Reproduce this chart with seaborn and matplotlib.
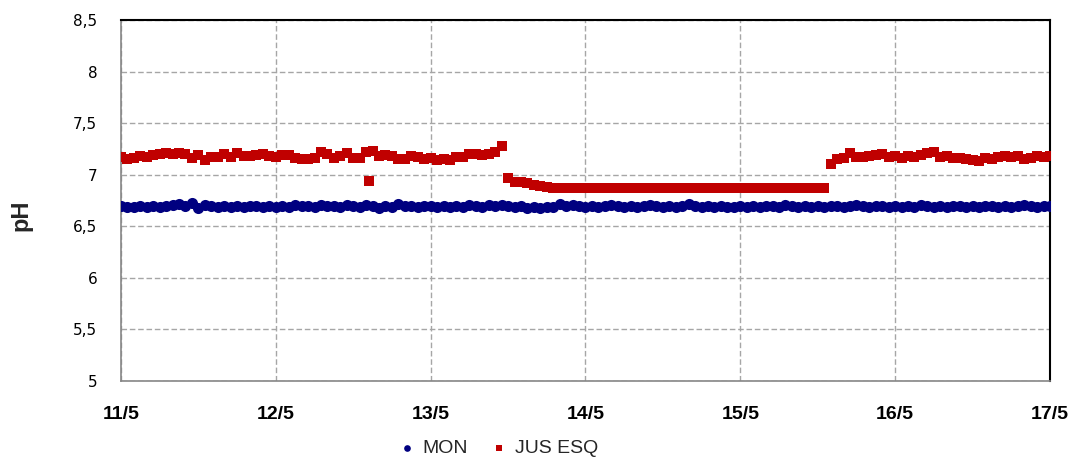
import matplotlib
matplotlib.use("Agg")
import matplotlib.pyplot as plt
import seaborn as sns
import pandas as pd

# Hourly readings from 11/5 00:00 to 17/5 00:00 (hours since start)
hours = list(range(0, 145))

mon_ph = [
    6.70, 6.69, 6.69, 6.70, 6.69, 6.70, 6.69, 6.70, 6.71, 6.72, 6.70, 6.73,
    6.68, 6.71, 6.70, 6.69, 6.70, 6.69, 6.70, 6.69, 6.70, 6.70, 6.69, 6.70,
    6.69, 6.70, 6.69, 6.71, 6.70, 6.70, 6.69, 6.71, 6.70, 6.70, 6.69, 6.71,
    6.70, 6.69, 6.71, 6.70, 6.68, 6.70, 6.69, 6.72, 6.70, 6.70, 6.69, 6.70,
    6.70, 6.69, 6.70, 6.69, 6.70, 6.69, 6.71, 6.70, 6.69, 6.71, 6.70, 6.71,
    6.70, 6.69, 6.70, 6.68, 6.69, 6.68, 6.69, 6.69, 6.72, 6.70, 6.71, 6.70,
    6.69, 6.70, 6.69, 6.70, 6.71, 6.70, 6.69, 6.70, 6.69, 6.70, 6.71, 6.70,
    6.69, 6.70, 6.69, 6.70, 6.72, 6.70, 6.69, 6.70, 6.69, 6.70, 6.69, 6.69,
    6.70, 6.69, 6.70, 6.69, 6.70, 6.70, 6.69, 6.71, 6.70, 6.69, 6.70, 6.69,
    6.70, 6.69, 6.70, 6.70, 6.69, 6.70, 6.71, 6.70, 6.69, 6.70, 6.70, 6.69,
    6.70, 6.69, 6.70, 6.69, 6.71, 6.70, 6.69, 6.70, 6.69, 6.70, 6.70, 6.69,
    6.70, 6.69, 6.70, 6.70, 6.69, 6.70, 6.69, 6.70, 6.71, 6.70, 6.69, 6.70,
    6.70,
]

jus_esq_ph = [
    7.17, 7.15, 7.16, 7.18, 7.17, 7.19, 7.20, 7.21, 7.20, 7.21, 7.20, 7.16,
    7.19, 7.14, 7.17, 7.17, 7.20, 7.17, 7.21, 7.18, 7.18, 7.19, 7.20, 7.18,
    7.17, 7.19, 7.19, 7.16, 7.15, 7.15, 7.16, 7.22, 7.20, 7.16, 7.18, 7.21,
    7.16, 7.16, 7.22, 7.23, 7.18, 7.19, 7.18, 7.15, 7.15, 7.18, 7.17, 7.15,
    7.16, 7.14, 7.15, 7.14, 7.17, 7.17, 7.20, 7.20, 7.19, 7.20, 7.22, 7.28,
    6.97, 6.93, 6.93, 6.92, 6.90, 6.89, 6.88, 6.87, 6.87, 6.87, 6.87, 6.87,
    6.87, 6.87, 6.87, 6.87, 6.87, 6.87, 6.87, 6.87, 6.87, 6.87, 6.87, 6.87,
    6.87, 6.87, 6.87, 6.87, 6.87, 6.87, 6.87, 6.87, 6.87, 6.87, 6.87, 6.87,
    6.87, 6.87, 6.87, 6.87, 6.87, 6.87, 6.87, 6.87, 6.87, 6.87, 6.87, 6.87,
    6.87, 6.87, 7.10, 7.15, 7.16, 7.21, 7.17, 7.17, 7.18, 7.19, 7.20, 7.17,
    7.18, 7.16, 7.18, 7.17, 7.19, 7.21, 7.22, 7.17, 7.18, 7.16, 7.16, 7.15,
    7.14, 7.13, 7.16, 7.15, 7.17, 7.18, 7.17, 7.18, 7.15, 7.16, 7.18, 7.17,
    7.18,
]

# Isolated JUS ESQ reading on 12/5 afternoon
jus_esq_extra_hours = [38.5]
jus_esq_extra_ph = [6.94]

day_ticks = [0, 24, 48, 72, 96, 120, 144]
day_labels = ["11/5", "12/5", "13/5", "14/5", "15/5", "16/5", "17/5"]
y_ticks = [5.0, 5.5, 6.0, 6.5, 7.0, 7.5, 8.0, 8.5]
y_labels = ["5", "5,5", "6", "6,5", "7", "7,5", "8", "8,5"]

mon_df = pd.DataFrame({"hora": hours, "pH": mon_ph})
jus_df = pd.DataFrame({
    "hora": hours + jus_esq_extra_hours,
    "pH": jus_esq_ph + jus_esq_extra_ph,
})

sns.set_style("white")
plt.rcParams["font.family"] = ["DejaVu Sans"]

fig = plt.figure(figsize=(10.84, 4.61), dpi=100)
ax = fig.add_axes([0.1116, 0.1735, 0.9686 - 0.1116, 0.9566 - 0.1735])

blue = "#000080"
red = "#C00000"

sns.scatterplot(data=mon_df, x="hora", y="pH", ax=ax, color=blue, marker="o",
                s=64, linewidth=0, label="MON", zorder=3)
sns.scatterplot(data=jus_df, x="hora", y="pH", ax=ax, color=red, marker="s",
                s=50, linewidth=0, label="JUS ESQ", zorder=3)

ax.set_xlim(0, 144)
ax.set_ylim(5, 8.5)
ax.set_xticks(day_ticks)
ax.set_xticklabels(day_labels, fontfamily="Liberation Sans", fontweight="bold",
                   fontsize=14)
ax.set_yticks(y_ticks)
ax.set_yticklabels(y_labels, fontsize=11)
ax.tick_params(axis="both", length=0, colors="black")
ax.tick_params(axis="x", pad=18)
ax.tick_params(axis="y", pad=17)

ax.set_xlabel("")
ax.set_ylabel("pH", fontfamily="Liberation Sans", fontweight="bold",
              fontsize=17, labelpad=14)
ax.yaxis.set_label_coords(-0.095, 0.46)

ax.grid(True, color="#A6A6A6", linestyle=(0, (4, 2)), linewidth=1.0)
ax.set_axisbelow(True)

for side in ["left", "bottom"]:
    ax.spines[side].set_color("#868686")
    ax.spines[side].set_linewidth(1.2)
for side in ["top", "right"]:
    ax.spines[side].set_color("black")
    ax.spines[side].set_linewidth(1.5)

ax.legend_.remove()
handles, labels = ax.get_legend_handles_labels()
fig.legend(handles, labels, loc="center", bbox_to_anchor=(0.46, 0.028),
           ncol=2, frameon=False, handlelength=0.8, handletextpad=0.4,
           columnspacing=1.2, markerscale=0.6,
           prop={"family": "Liberation Sans", "size": 14})

fig.savefig("out.png", dpi=100)
